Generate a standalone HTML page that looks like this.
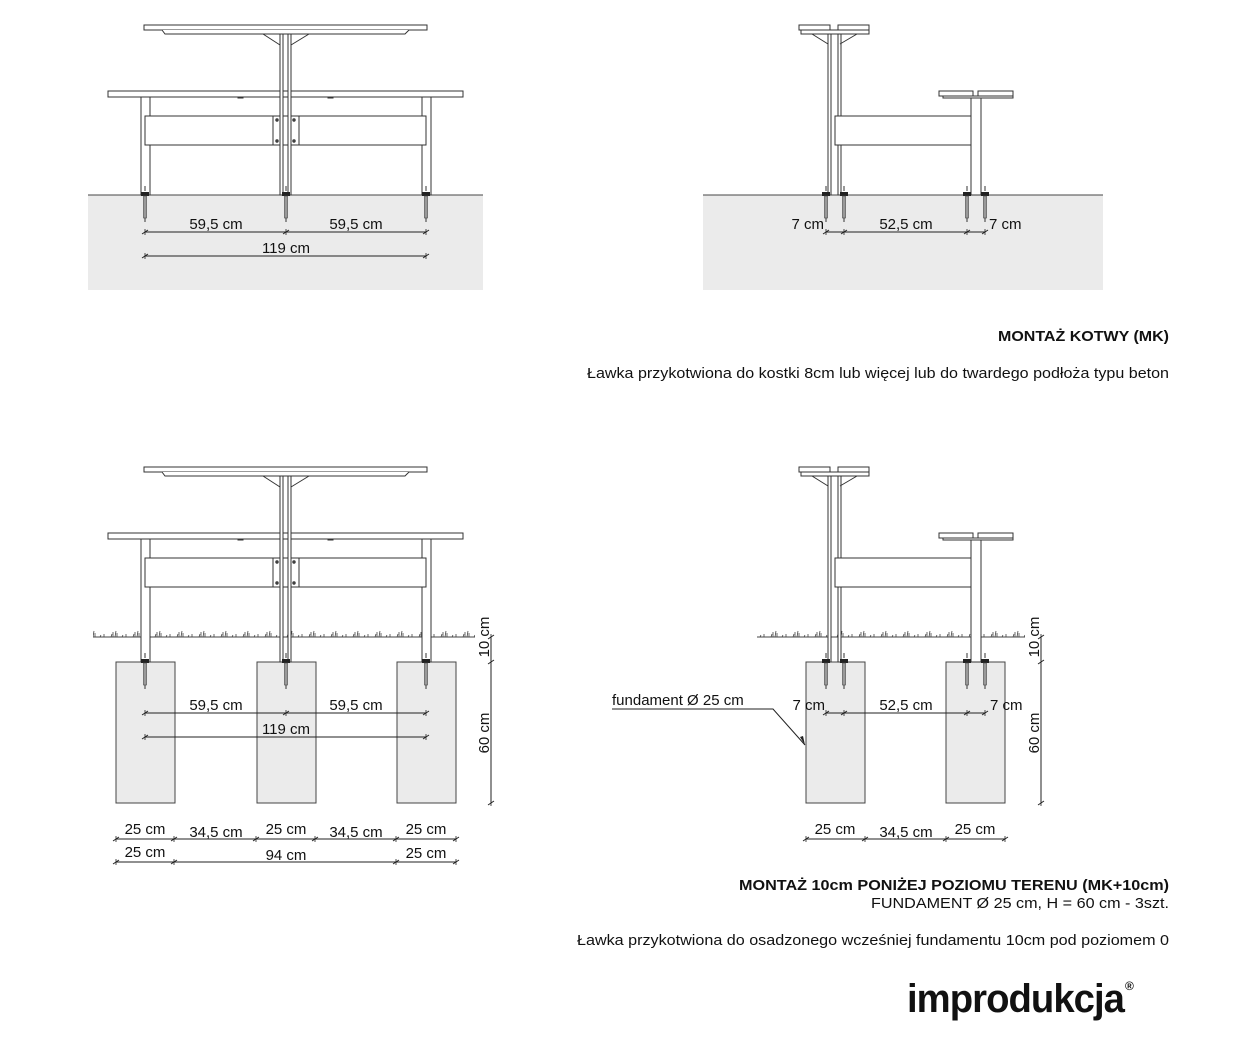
<!DOCTYPE html>
<html><head><meta charset="utf-8">
<style>
html,body{margin:0;padding:0;background:#fff;}
svg{display:block;}
text{font-family:"Liberation Sans",Arial,sans-serif;fill:#111;}
</style></head>
<body>
<svg width="1250" height="1039" viewBox="0 0 1250 1039" xmlns="http://www.w3.org/2000/svg">
<defs>
  <g id="tblL" fill="#fff" stroke="#333" stroke-width="1">
    <rect x="144" y="25" width="283" height="5"/>
    <path d="M162 30 L165 34 L405 34 L409 30"/>
    <path d="M263 34 L280 45 M309 34 L291 45"/>
    <rect x="108" y="91" width="355" height="6"/>
    <rect x="145" y="116" width="281" height="29"/>
    <rect x="273" y="116" width="8" height="29"/>
    <rect x="291" y="116" width="8" height="29"/>
    <circle cx="277" cy="120" r="1.2" fill="#555"/><circle cx="277" cy="141" r="1.2" fill="#555"/>
    <circle cx="294" cy="120" r="1.2" fill="#555"/><circle cx="294" cy="141" r="1.2" fill="#555"/>
    <rect x="238" y="97" width="5" height="1" fill="#333"/><rect x="328" y="97" width="5" height="1" fill="#333"/>
  </g>
  <g id="tblR" fill="#fff" stroke="#333" stroke-width="1">
    <rect x="799" y="25" width="31" height="5"/>
    <rect x="838" y="25" width="31" height="5"/>
    <rect x="801" y="30" width="68" height="4"/>
    <path d="M812 34 L828 44 M857 34 L840 44"/>
    <rect x="939" y="91" width="34" height="5"/>
    <rect x="978" y="91" width="35" height="5"/>
    <rect x="943" y="96" width="70" height="2"/>
    <rect x="835" y="116" width="136" height="29"/>
  </g>
  <g id="anc">
    <line x1="0" y1="-9" x2="0" y2="-4" stroke="#333" stroke-width="1"/>
    <rect x="-4" y="-3" width="8" height="4" fill="#222"/>
    <rect x="-1.5" y="1" width="3" height="22" fill="#999" stroke="#444" stroke-width="0.6"/>
    <line x1="0" y1="23" x2="0" y2="27" stroke="#333" stroke-width="1"/>
  </g>
  <g id="tk"><line x1="-3" y1="2" x2="3" y2="-2" stroke="#222" stroke-width="1"/><line x1="0" y1="-3" x2="0" y2="3" stroke="#222" stroke-width="0.8"/></g>
  <pattern id="grass" patternUnits="userSpaceOnUse" width="22" height="8" x="0" y="629">
    <path d="M1 8 L2 5 M3 8 L3 3 M5 8 L6 2 M7 8 L7 4 M12 8 L13 6 M16 8 L16 5" stroke="#444" stroke-width="0.8" fill="none"/>
  </pattern>
</defs>

<!-- ===== TOP LEFT ===== -->
<rect x="88" y="195" width="395" height="95" fill="#ebebeb"/>
<line x1="88" y1="195" x2="483" y2="195" stroke="#444"/>
<g fill="#fff" stroke="#333">
  <rect x="141" y="97" width="9" height="98"/><rect x="422" y="97" width="9" height="98"/>
</g>
<use href="#tblL"/>
<g fill="#fff" stroke="#333">
  <rect x="280" y="34" width="3" height="161"/><rect x="288" y="34" width="3" height="161"/>
</g>
<use href="#anc" x="145" y="195"/><use href="#anc" x="286" y="195"/><use href="#anc" x="426" y="195"/>
<line x1="145" y1="232" x2="426" y2="232" stroke="#222"/>
<use href="#tk" x="145" y="232"/><use href="#tk" x="286" y="232"/><use href="#tk" x="426" y="232"/>
<line x1="145" y1="256" x2="426" y2="256" stroke="#222"/>
<use href="#tk" x="145" y="256"/><use href="#tk" x="426" y="256"/>
<text x="216" y="229" font-size="15" text-anchor="middle">59,5 cm</text>
<text x="356" y="229" font-size="15" text-anchor="middle">59,5 cm</text>
<text x="286" y="253" font-size="15" text-anchor="middle">119 cm</text>

<!-- ===== TOP RIGHT ===== -->
<rect x="703" y="195" width="400" height="95" fill="#ebebeb"/>
<line x1="703" y1="195" x2="1103" y2="195" stroke="#444"/>
<g fill="#fff" stroke="#333">
  <rect x="828" y="34" width="3" height="161"/><rect x="838" y="34" width="3" height="161"/>
  <rect x="971" y="98" width="10" height="97"/>
</g>
<use href="#tblR"/>
<use href="#anc" x="826" y="195"/><use href="#anc" x="844" y="195"/><use href="#anc" x="967" y="195"/><use href="#anc" x="985" y="195"/>
<line x1="826" y1="232" x2="985" y2="232" stroke="#222"/>
<use href="#tk" x="826" y="232"/><use href="#tk" x="844" y="232"/><use href="#tk" x="967" y="232"/><use href="#tk" x="985" y="232"/>
<text x="824" y="229" font-size="15" text-anchor="end">7 cm</text>
<text x="906" y="229" font-size="15" text-anchor="middle">52,5 cm</text>
<text x="989" y="229" font-size="15">7 cm</text>

<text x="1169" y="341" font-size="15" font-weight="bold" text-anchor="end" textLength="171" lengthAdjust="spacingAndGlyphs">MONTAŻ KOTWY (MK)</text>
<text x="1169" y="378" font-size="14.5" text-anchor="end" textLength="582" lengthAdjust="spacingAndGlyphs">Ławka przykotwiona do kostki 8cm lub więcej lub do twardego podłoża typu beton</text>

<!-- ===== BOTTOM LEFT ===== -->
<rect x="93" y="629" width="382" height="8" fill="url(#grass)"/>
<line x1="93" y1="637" x2="475" y2="637" stroke="#444"/>
<g fill="#ebebeb" stroke="#444">
  <rect x="116" y="662" width="59" height="141"/><rect x="257" y="662" width="59" height="141"/><rect x="397" y="662" width="59" height="141"/>
</g>
<g fill="#fff" stroke="#333">
  <rect x="141" y="539" width="9" height="123"/><rect x="422" y="539" width="9" height="123"/>
</g>
<g transform="translate(0,442)"><use href="#tblL"/></g>
<g fill="#fff" stroke="#333">
  <rect x="280" y="476" width="3" height="186"/><rect x="288" y="476" width="3" height="186"/>
</g>
<use href="#anc" x="145" y="662"/><use href="#anc" x="286" y="662"/><use href="#anc" x="426" y="662"/>
<line x1="145" y1="713" x2="426" y2="713" stroke="#222"/>
<use href="#tk" x="145" y="713"/><use href="#tk" x="286" y="713"/><use href="#tk" x="426" y="713"/>
<line x1="145" y1="737" x2="426" y2="737" stroke="#222"/>
<use href="#tk" x="145" y="737"/><use href="#tk" x="426" y="737"/>
<text x="216" y="710" font-size="15" text-anchor="middle">59,5 cm</text>
<text x="356" y="710" font-size="15" text-anchor="middle">59,5 cm</text>
<text x="286" y="734" font-size="15" text-anchor="middle">119 cm</text>
<line x1="491" y1="637" x2="491" y2="803" stroke="#222"/>
<use href="#tk" x="491" y="637"/><use href="#tk" x="491" y="662"/><use href="#tk" x="491" y="803"/>
<text transform="translate(489,637) rotate(-90)" font-size="15" text-anchor="middle">10 cm</text>
<text transform="translate(489,733) rotate(-90)" font-size="15" text-anchor="middle">60 cm</text>
<line x1="116" y1="839" x2="456" y2="839" stroke="#222"/>
<use href="#tk" x="116" y="839"/><use href="#tk" x="174" y="839"/><use href="#tk" x="256" y="839"/><use href="#tk" x="315" y="839"/><use href="#tk" x="396" y="839"/><use href="#tk" x="456" y="839"/>
<line x1="116" y1="862" x2="456" y2="862" stroke="#222"/>
<use href="#tk" x="116" y="862"/><use href="#tk" x="174" y="862"/><use href="#tk" x="396" y="862"/><use href="#tk" x="456" y="862"/>
<g font-size="15" text-anchor="middle">
<text x="145" y="834">25 cm</text><text x="216" y="837">34,5 cm</text><text x="286" y="834">25 cm</text><text x="356" y="837">34,5 cm</text><text x="426" y="834">25 cm</text>
<text x="145" y="857">25 cm</text><text x="286" y="860">94 cm</text><text x="426" y="858">25 cm</text>
</g>

<!-- ===== BOTTOM RIGHT ===== -->
<rect x="757" y="629" width="268" height="8" fill="url(#grass)"/>
<line x1="757" y1="637" x2="1025" y2="637" stroke="#444"/>
<g fill="#ebebeb" stroke="#444">
  <rect x="806" y="662" width="59" height="141"/><rect x="946" y="662" width="59" height="141"/>
</g>
<g fill="#fff" stroke="#333">
  <rect x="828" y="476" width="3" height="186"/><rect x="838" y="476" width="3" height="186"/>
  <rect x="971" y="540" width="10" height="122"/>
</g>
<g transform="translate(0,442)"><use href="#tblR"/></g>
<use href="#anc" x="826" y="662"/><use href="#anc" x="844" y="662"/><use href="#anc" x="967" y="662"/><use href="#anc" x="985" y="662"/>
<line x1="826" y1="713" x2="985" y2="713" stroke="#222"/>
<use href="#tk" x="826" y="713"/><use href="#tk" x="844" y="713"/><use href="#tk" x="967" y="713"/><use href="#tk" x="985" y="713"/>
<text x="825" y="710" font-size="15" text-anchor="end">7 cm</text>
<text x="906" y="710" font-size="15" text-anchor="middle">52,5 cm</text>
<text x="990" y="710" font-size="15">7 cm</text>
<text x="612" y="705" font-size="15">fundament Ø 25 cm</text>
<path d="M612 709 L773 709 L805 745" stroke="#222" fill="none"/>
<path d="M805 745 L800 737 L803 736 Z" fill="#222"/>
<line x1="1041" y1="637" x2="1041" y2="803" stroke="#222"/>
<use href="#tk" x="1041" y="637"/><use href="#tk" x="1041" y="662"/><use href="#tk" x="1041" y="803"/>
<text transform="translate(1039,637) rotate(-90)" font-size="15" text-anchor="middle">10 cm</text>
<text transform="translate(1039,733) rotate(-90)" font-size="15" text-anchor="middle">60 cm</text>
<line x1="806" y1="839" x2="1005" y2="839" stroke="#222"/>
<use href="#tk" x="806" y="839"/><use href="#tk" x="865" y="839"/><use href="#tk" x="946" y="839"/><use href="#tk" x="1005" y="839"/>
<g font-size="15" text-anchor="middle">
<text x="835" y="834">25 cm</text><text x="906" y="837">34,5 cm</text><text x="975" y="834">25 cm</text>
</g>

<text x="1169" y="890" font-size="15" font-weight="bold" text-anchor="end" textLength="430" lengthAdjust="spacingAndGlyphs">MONTAŻ 10cm PONIŻEJ POZIOMU TERENU (MK+10cm)</text>
<text x="1169" y="908" font-size="15" text-anchor="end" textLength="298" lengthAdjust="spacingAndGlyphs">FUNDAMENT Ø 25 cm, H = 60 cm - 3szt.</text>
<text x="1169" y="945" font-size="15" text-anchor="end" textLength="592" lengthAdjust="spacingAndGlyphs">Ławka przykotwiona do osadzonego wcześniej fundamentu 10cm pod poziomem 0</text>

<text x="907" y="1012" font-size="40" font-weight="bold" textLength="217" lengthAdjust="spacingAndGlyphs" style="letter-spacing:-1px">improdukcja</text>
<text x="1125" y="990" font-size="12" font-weight="bold">®</text>
</svg>
</body></html>
